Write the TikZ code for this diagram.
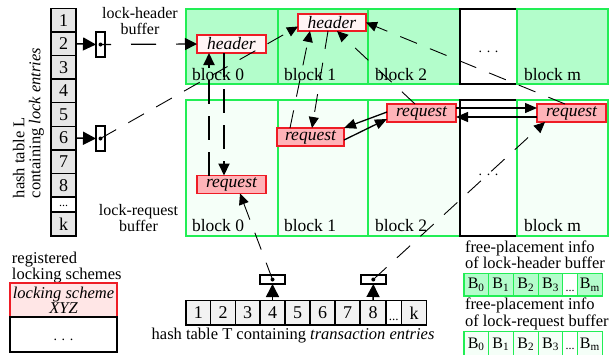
\documentclass[tikz,border=0pt]{standalone}
\usepackage{fontspec}
\setmainfont{Liberation Serif}
\usetikzlibrary{arrows.meta,calc}
\definecolor{gbord}{HTML}{22EE55}
\definecolor{hfill}{HTML}{B3FDCB}
\definecolor{rfill}{HTML}{F5FFF8}
\definecolor{redb}{HTML}{EE1C25}
\definecolor{hnfill}{HTML}{FFF4F5}
\definecolor{rnfill}{HTML}{FFB3B8}
\definecolor{lsfill}{HTML}{FFE6E6}
\definecolor{lcell}{HTML}{E6E6E6}
\definecolor{tcell}{HTML}{F2F2F2}
\newcommand\myfs[2]{\fontsize{#1}{#2}\selectfont}
\begin{document}
\begin{tikzpicture}[x=1pt,y=-1pt,
  every node/.style={outer sep=0pt},
  blk/.style={line width=1.5pt, anchor=north west, inner sep=0pt},
  hblk/.style={blk, draw=gbord, fill=hfill, minimum height=75pt},
  rblk/.style={blk, draw=gbord, fill=rfill, minimum height=136pt},
  dblk/.style={blk, draw=black, fill=white, font=\myfs{14}{14}},
  blab/.style={anchor=base west, inner sep=0pt, font=\myfs{17.5}{17.5}},
  hnode/.style={draw=redb, fill=hnfill, line width=1.5pt, inner sep=0pt, minimum width=69pt, minimum height=18pt, font=\myfs{17.5}{17.5}\itshape},
  rnode/.style={hnode, fill=rnfill},
  lcellst/.style={draw=black, fill=lcell, line width=1.5pt, minimum width=25pt, inner sep=0pt, anchor=north west, font=\myfs{18}{18}},
  tcellst/.style={draw=black, fill=tcell, line width=1.5pt, minimum height=24.3pt, inner sep=0pt, anchor=north west, font=\myfs{18}{18}},
  bcell/.style={draw=gbord, line width=1.5pt, minimum height=22.7pt, inner sep=0pt, anchor=north west, font=\myfs{16}{16}},
  ptrbox/.style={draw=black, fill=white, line width=1.5pt, inner sep=0pt},
  bigarr/.style={line width=1.5pt, -{Triangle[length=13pt,width=13pt]}},
  thind/.style={line width=0.9pt, dash pattern=on 18pt off 14pt, -{Triangle[length=11pt,width=10pt]}},
  thickd/.style={line width=2pt, dash pattern=on 24pt off 12pt, -{Triangle[length=12pt,width=11pt]}},
  sarr/.style={line width=1.3pt, -{Triangle[length=12pt,width=10pt]}},
  lbl/.style={inner sep=0pt, font=\myfs{16.5}{14}},
  buflbl/.style={inner sep=0pt, font=\myfs{16}{15.5}, anchor=north, align=center},
]
\useasboundingbox (0,0) rectangle (615,354);

% ---- lock-header buffer blocks
\node[hblk, minimum width=92pt] (hb0) at (186,9) {};
\node[hblk, minimum width=90pt] (hb1) at (278,9) {};
\node[hblk, minimum width=92pt] (hb2) at (368,9) {};
\node[dblk, minimum width=57pt, minimum height=75pt, text height=11pt, text depth=0pt] (hbd) at (460,9) {. . .};
\node[hblk, minimum width=91pt] (hbm) at (517,9) {};
% ---- lock-request buffer blocks
\node[rblk, minimum width=92pt] (rb0) at (186,100) {};
\node[rblk, minimum width=90pt] (rb1) at (278,100) {};
\node[rblk, minimum width=92pt] (rb2) at (368,100) {};
\node[dblk, minimum width=57pt, minimum height=136pt, text height=14pt, text depth=0pt] (rbd) at (460,100) {. . .};
\node[rblk, minimum width=91pt] (rbm) at (517,100) {};

% block labels
\node[blab] (lh0) at (192,80) {block 0};
\node[blab] (lh1) at (284,80) {block 1};
\node[blab] (lh2) at (375,80) {block 2};
\node[blab] (lhm) at (524,80) {block m};
\node[blab] (lr0) at (192,231) {block 0};
\node[blab] (lr1) at (284,231) {block 1};
\node[blab] (lr2) at (375,231) {block 2};
\node[blab] (lrm) at (524,231) {block m};

% header and request nodes
\node[hnode] (H0) at (231.5,44) {header};
\node[hnode, minimum width=68pt, minimum height=17pt] (H1) at (332,22.5) {header};
\node[rnode] (R0) at (231.5,184.5) {request};
\node[rnode, minimum width=67pt] (R1) at (310.5,137) {request};
\node[rnode] (R2) at (421.5,113) {request};
\node[rnode] (Rm) at (571.5,113) {request};

% ---- hash table L
\node[lcellst, minimum height=23.6pt] (L1) at (51,8.3) {1};
\node[lcellst, minimum height=23.6pt] (L2) at (51,31.9) {2};
\node[lcellst, minimum height=23.6pt] (L3) at (51,55.5) {3};
\node[lcellst, minimum height=23.6pt] (L4) at (51,79.1) {4};
\node[lcellst, minimum height=23.6pt] (L5) at (51,102.7) {5};
\node[lcellst, minimum height=23.6pt] (L6) at (51,126.3) {6};
\node[lcellst, minimum height=23.6pt] (L7) at (51,149.9) {7};
\node[lcellst, minimum height=23.6pt] (L8) at (51,173.5) {8};
\node[lcellst, minimum height=15pt, fill=white, font=\myfs{12}{12}, text height=4pt, text depth=0pt] (Ld) at (51,197.1) {...};
\node[lcellst, minimum height=24pt] (Lk) at (51,212.1) {k};
\node[lbl, rotate=90, anchor=north west, align=left, font=\myfs{16.5}{16}] (Ltxt) at (13,198) {hash table L\\containing \textit{lock entries}};

% pointer boxes of L
\node[ptrbox, minimum width=9pt, minimum height=25pt] (pL2) at (100.5,44.5) {};
\node[ptrbox, minimum width=9pt, minimum height=25pt] (pL6) at (100.5,138.5) {};
\fill (pL2.center) circle (2pt);
\fill (pL6.center) circle (2pt);

% labels
\node[buflbl] (lhbuf) at (140,7.5) {lock-header\\buffer};
\node[buflbl] (lrbuf) at (138.5,204.5) {lock-request\\buffer};
\node[lbl, anchor=north west, align=left] (regls) at (12,252) {registered\\locking schemes};

% locking schemes
\node[blk, draw=redb, fill=lsfill, minimum width=107pt, minimum height=34pt, align=center, font=\myfs{16.5}{15}\itshape] (LS) at (10,283) {locking scheme\\XYZ};
\node[blk, draw=black, fill=white, minimum width=107pt, minimum height=35pt, font=\myfs{14}{14}, text height=12pt, text depth=0pt] (LS2) at (10,317) {. . .};

% ---- hash table T
\node[tcellst, minimum width=24.7pt] (T1) at (186,300.7) {1};
\node[tcellst, minimum width=24.6pt] (T2) at (210.7,300.7) {2};
\node[tcellst, minimum width=24.7pt] (T3) at (235.3,300.7) {3};
\node[tcellst, minimum width=25pt] (T4) at (260,300.7) {4};
\node[tcellst, minimum width=25pt] (T5) at (285,300.7) {5};
\node[tcellst, minimum width=25pt] (T6) at (310,300.7) {6};
\node[tcellst, minimum width=25pt] (T7) at (335,300.7) {7};
\node[tcellst, minimum width=26pt] (T8) at (360,300.7) {8};
\node[tcellst, minimum width=15.7pt, fill=white, font=\myfs{13}{13}, text height=16pt, text depth=0pt] (Td) at (386,300.7) {...};
\node[tcellst, minimum width=25pt] (Tk) at (401.7,300.7) {k};
\node[lbl, anchor=base west] (Ttxt) at (151.7,339) {hash table T containing \textit{transaction entries}};

\node[ptrbox, minimum width=25pt, minimum height=9pt] (pT4) at (272.5,279.5) {};
\node[ptrbox, minimum width=25pt, minimum height=9pt] (pT8) at (373.3,279.5) {};
\fill (pT4.center) circle (2pt);
\fill (pT8.center) circle (2pt);

% ---- free-placement info
\node[lbl, anchor=north west, align=left] (fp1) at (465,241) {free-placement info\\of lock-header buffer};
\node[bcell, fill=hfill, minimum width=24.3pt] (B10) at (464,273.3) {B\textsubscript{0}};
\node[bcell, fill=hfill, minimum width=25pt] (B11) at (488.3,273.3) {B\textsubscript{1}};
\node[bcell, fill=hfill, minimum width=25pt] (B12) at (513.3,273.3) {B\textsubscript{2}};
\node[bcell, fill=hfill, minimum width=24.4pt] (B13) at (538.3,273.3) {B\textsubscript{3}};
\node[bcell, fill=white, minimum width=14.6pt, font=\myfs{12}{12}, text height=14pt, text depth=0pt] (B1d) at (562.7,273.3) {...};
\node[bcell, fill=hfill, minimum width=25pt] (B1m) at (577.3,273.3) {B\textsubscript{m}};

\node[lbl, anchor=north west, align=left] (fp2) at (465,298.3) {free-placement info\\of lock-request buffer};
\node[bcell, fill=rfill, minimum width=24.3pt, minimum height=25pt] (B20) at (464,331.7) {B\textsubscript{0}};
\node[bcell, fill=rfill, minimum width=25pt, minimum height=25pt] (B21) at (488.3,331.7) {B\textsubscript{1}};
\node[bcell, fill=rfill, minimum width=25pt, minimum height=25pt] (B22) at (513.3,331.7) {B\textsubscript{2}};
\node[bcell, fill=rfill, minimum width=24.4pt, minimum height=25pt] (B23) at (538.3,331.7) {B\textsubscript{3}};
\node[bcell, fill=white, minimum width=14.6pt, minimum height=25pt, font=\myfs{12}{12}, text height=10pt, text depth=0pt] (B2d) at (562.7,331.7) {...};
\node[bcell, fill=rfill, minimum width=25pt, minimum height=25pt] (B2m) at (577.3,331.7) {B\textsubscript{m}};

% ---- connectors
\draw[bigarr] (L2.east) -- (pL2.west);
\draw[bigarr] (L6.east) -- (pL6.west);
\draw[bigarr] (T4.north) -- (pT4.south);
\draw[bigarr] (T8.north) -- (pT8.south);

\draw[line width=1.2pt, dash pattern=on 25pt off 20pt, dash phase=14.5pt, -{Triangle[length=12pt,width=12pt]}] (pL2.center) -- (H0.west);
\draw[thind] (pL6.center) -- ($(H1.west)+(0,4)$);

\draw[thickd] ($(R0.north west)+(12,0)$) -- ($(H0.south west)+(12,0)$);
\draw[thickd] ($(H0.south west)+(27,0)$) -- ($(R0.north west)+(27,0)$);

\draw[thind] ($(R1.north west)+(13,0)$) -- ($(H1.south west)+(12,0)$);
\draw[thind] ($(H1.south west)+(30,0)$) -- ($(R1.north west)+(35,0)$);
\draw[thind] ($(R2.north west)+(28,0)$) -- ($(H1.south east)+(-29,0)$);
\draw[thind] ($(Rm.north west)+(28,0)$) -- (H1.east);

\draw[sarr] ($(R2.west)+(0,-1)$) -- (R1.north east);
\draw[sarr] ($(R1.east)+(0,3)$) -- ($(R2.west)+(0,6)$);
\draw[sarr] ($(R2.east)+(0,-5)$) -- ($(Rm.west)+(0,-5)$);
\draw[sarr] ($(Rm.west)+(0,4)$) -- ($(R2.east)+(0,4)$);

\draw[thind] (pT4.center) -- ($(R0.south west)+(43,0)$);
\draw[thind] (pT8.center) -- ($(Rm.south west)+(8,0)$);
\end{tikzpicture}
\end{document}
